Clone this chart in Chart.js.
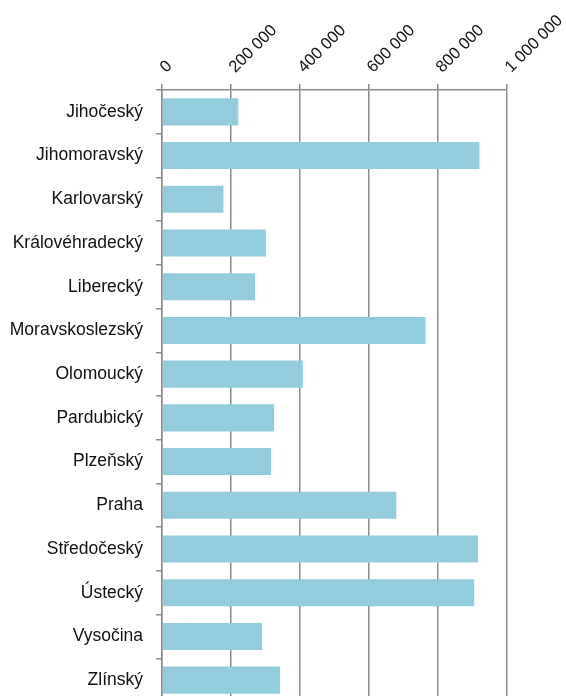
<!DOCTYPE html>
<html>
<head>
<meta charset="utf-8">
<script src="https://cdn.jsdelivr.net/npm/chart.js@4.4.1/dist/chart.umd.min.js"></script>
<style>
    html, body { margin: 0; padding: 0; background: #fff; overflow: hidden; }
    #wrap { width: 566px; height: 702px; }
</style>
</head>
<body>
<div id="wrap"><canvas id="regionChart" width="566" height="702"></canvas></div>
<script>
// Kraje a hodnoty
const regions = [
    'Jihočeský', 'Jihomoravský', 'Karlovarský', 'Královéhradecký', 'Liberecký',
    'Moravskoslezský', 'Olomoucký', 'Pardubický', 'Plzeňský', 'Praha',
    'Středočeský', 'Ústecký', 'Vysočina', 'Zlínský'
];
const values = [
    221000, 920000, 178000, 301000, 270000,
    764000, 408000, 325000, 316000, 679000,
    916000, 905000, 290000, 342000
];
const axisMin = 0;
const axisMax = 1000000;
const axisStep = 200000;

function formatThousands(v) {
    return String(v).replace(/\B(?=(\d{3})+(?!\d))/g, ' ');
}

document.addEventListener('DOMContentLoaded', function() {
    initChart();
});

function initChart() {
    const ctx = document.getElementById('regionChart').getContext('2d');
    const gridColor = '#8c8c8c';

    new Chart(ctx, {
        type: 'bar',
        data: {
            labels: regions,
            datasets: [{
                data: values,
                backgroundColor: '#93cddd',
                borderWidth: 0,
                barPercentage: 0.62,
                categoryPercentage: 1.0
            }]
        },
        options: {
            indexAxis: 'y',
            responsive: false,
            animation: false,
            layout: {
                padding: { top: 0, right: 59, bottom: 0, left: 0 }
            },
            plugins: {
                legend: { display: false },
                tooltip: { enabled: false }
            },
            scales: {
                x: {
                    position: 'top',
                    min: axisMin,
                    max: axisMax,
                    ticks: {
                        stepSize: axisStep,
                        autoSkip: false,
                        minRotation: 45,
                        maxRotation: 45,
                        padding: 7,
                        labelOffset: 15,
                        color: '#111',
                        font: { family: '"Liberation Sans", Arial, sans-serif', size: 16.5 },
                        callback: function(v) { return formatThousands(v); }
                    },
                    grid: {
                        color: gridColor,
                        lineWidth: 1.5,
                        tickLength: 6
                    },
                    border: { color: gridColor, width: 1.5 },
                    afterFit: function(scale) {
                        scale.height = 90;
                        scale.paddingLeft = 0;
                        scale.paddingRight = 0;
                    }
                },
                y: {
                    z: 1,
                    ticks: {
                        padding: 13,
                        color: '#111',
                        font: { family: '"Liberation Sans", Arial, sans-serif', size: 17.5 }
                    },
                    grid: {
                        drawOnChartArea: false,
                        color: gridColor,
                        lineWidth: 1.5,
                        tickLength: 6
                    },
                    border: { color: gridColor, width: 1.5 },
                    afterFit: function(scale) {
                        scale.width = 162;
                        scale.paddingTop = 0;
                        scale.paddingBottom = 0;
                    }
                }
            }
        }
    });
}
</script>
</body>
</html>
